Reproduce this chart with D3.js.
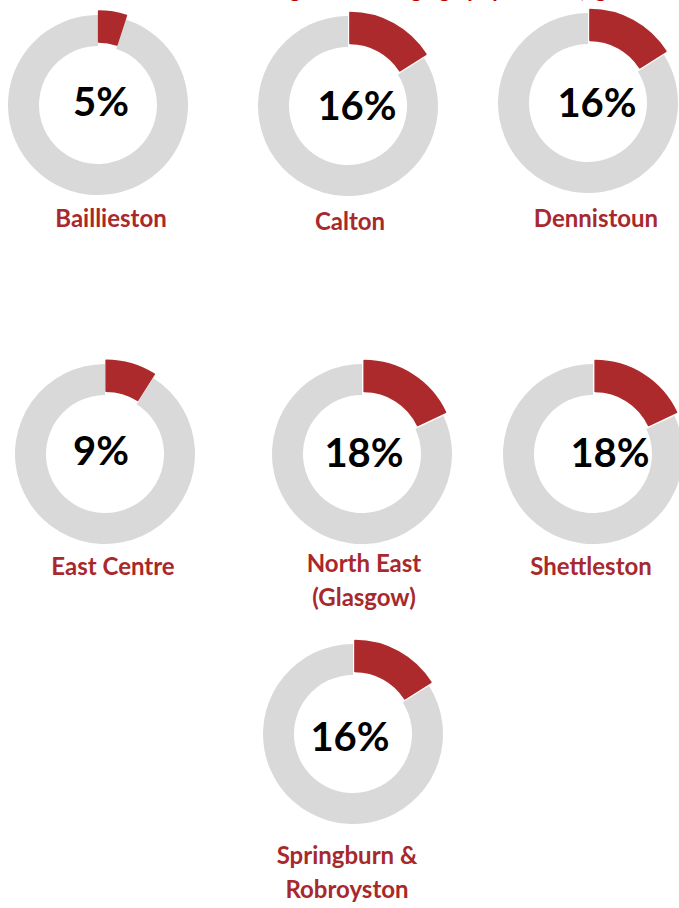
<!DOCTYPE html>
<html>
<head>
<meta charset="utf-8">
<script src="https://cdn.jsdelivr.net/npm/d3@7"></script>
<style>
  body { margin: 0; background: #fff; }
  svg { display: block; }
</style>
</head>
<body>
<div id="chart"></div>
<script>
// data
const areas = ["Baillieston", "Calton", "Dennistoun", "East Centre",
  "North East (Glasgow)", "Shettleston", "Springburn & Robroyston"];
const shares = [5, 16, 16, 9, 18, 18, 16];
const labelLines = [["Baillieston"], ["Calton"], ["Dennistoun"], ["East Centre"],
  ["North East", "(Glasgow)"], ["Shettleston"], ["Springburn &", "Robroyston"]];

// small multiple placement (donut centre, % label, area label)
const layout = [
  { cx: 98,  cy: 105, tx: 101, ty: 102, lx: 111, ly: 227 },
  { cx: 348, cy: 106, tx: 357, ty: 106, lx: 350, ly: 230 },
  { cx: 588, cy: 103, tx: 597, ty: 103, lx: 596, ly: 227 },
  { cx: 105, cy: 454, tx: 101, ty: 451, lx: 113, ly: 575 },
  { cx: 362, cy: 454, tx: 364, ty: 453, lx: 364, ly: 572 },
  { cx: 593, cy: 454, tx: 610, ty: 453, lx: 591, ly: 575 },
  { cx: 353, cy: 734, tx: 350, ty: 737, lx: 347, ly: 864 }
];

const width = 679, height = 908;
const outerR = 90, innerR = 59, explode = 4;
const red = "#ad2a2c", grey = "#d9d9d9";

const svg = d3.select("#chart").append("svg")
  .attr("width", width)
  .attr("height", height);

// title, cut off by the top edge in the source picture
svg.append("text")
  .attr("x", 452)
  .attr("y", -3)
  .attr("text-anchor", "middle")
  .style("font-family", "Lato, 'Open Sans', sans-serif")
  .style("font-weight", "bold")
  .style("font-size", "22px")
  .style("fill", "#c00000")
  .text("Percentage of working age population (aged 16-64)");

const pie = d3.pie().sort(null).value(d => d);
const arc = d3.arc().innerRadius(innerR).outerRadius(outerR);

const groups = svg.selectAll(".donut")
  .data(areas.map((a, i) => ({ area: a, share: shares[i], lines: labelLines[i], pos: layout[i] })))
  .enter()
  .append("g")
  .attr("class", "donut");

groups.each(function (d) {
  const g = d3.select(this);
  const slices = pie([d.share, 100 - d.share]);
  const ring = g.append("g")
    .attr("transform", `translate(${d.pos.cx},${d.pos.cy})`);

  // grey remainder first, then the highlighted slice pulled out a little
  ring.append("path")
    .attr("d", arc(slices[1]))
    .style("fill", grey);

  const mid = (slices[0].startAngle + slices[0].endAngle) / 2;
  ring.append("path")
    .attr("d", arc(slices[0]))
    .attr("transform", `translate(${Math.sin(mid) * explode},${-Math.cos(mid) * explode})`)
    .style("fill", red)
    .style("stroke", red)
    .style("stroke-width", 1.5)
    .style("stroke-linejoin", "round");

  g.append("text")
    .attr("x", d.pos.tx)
    .attr("y", d.pos.ty)
    .attr("dy", "0.36em")
    .attr("text-anchor", "middle")
    .style("font-family", "Lato, 'Open Sans', sans-serif")
    .style("font-weight", "bold")
    .style("font-size", "40px")
    .style("fill", "#000")
    .text(d3.format("d")(d.share) + "%");

  g.append("text")
    .attr("text-anchor", "middle")
    .style("font-family", "Lato, 'Open Sans', sans-serif")
    .style("font-weight", "bold")
    .style("font-size", "24px")
    .style("fill", "#a8292c")
    .selectAll("tspan")
    .data(d.lines)
    .enter()
    .append("tspan")
    .attr("x", d.pos.lx)
    .attr("y", (l, i) => d.pos.ly + i * 34)
    .text(l => l);
});
</script>
</body>
</html>
